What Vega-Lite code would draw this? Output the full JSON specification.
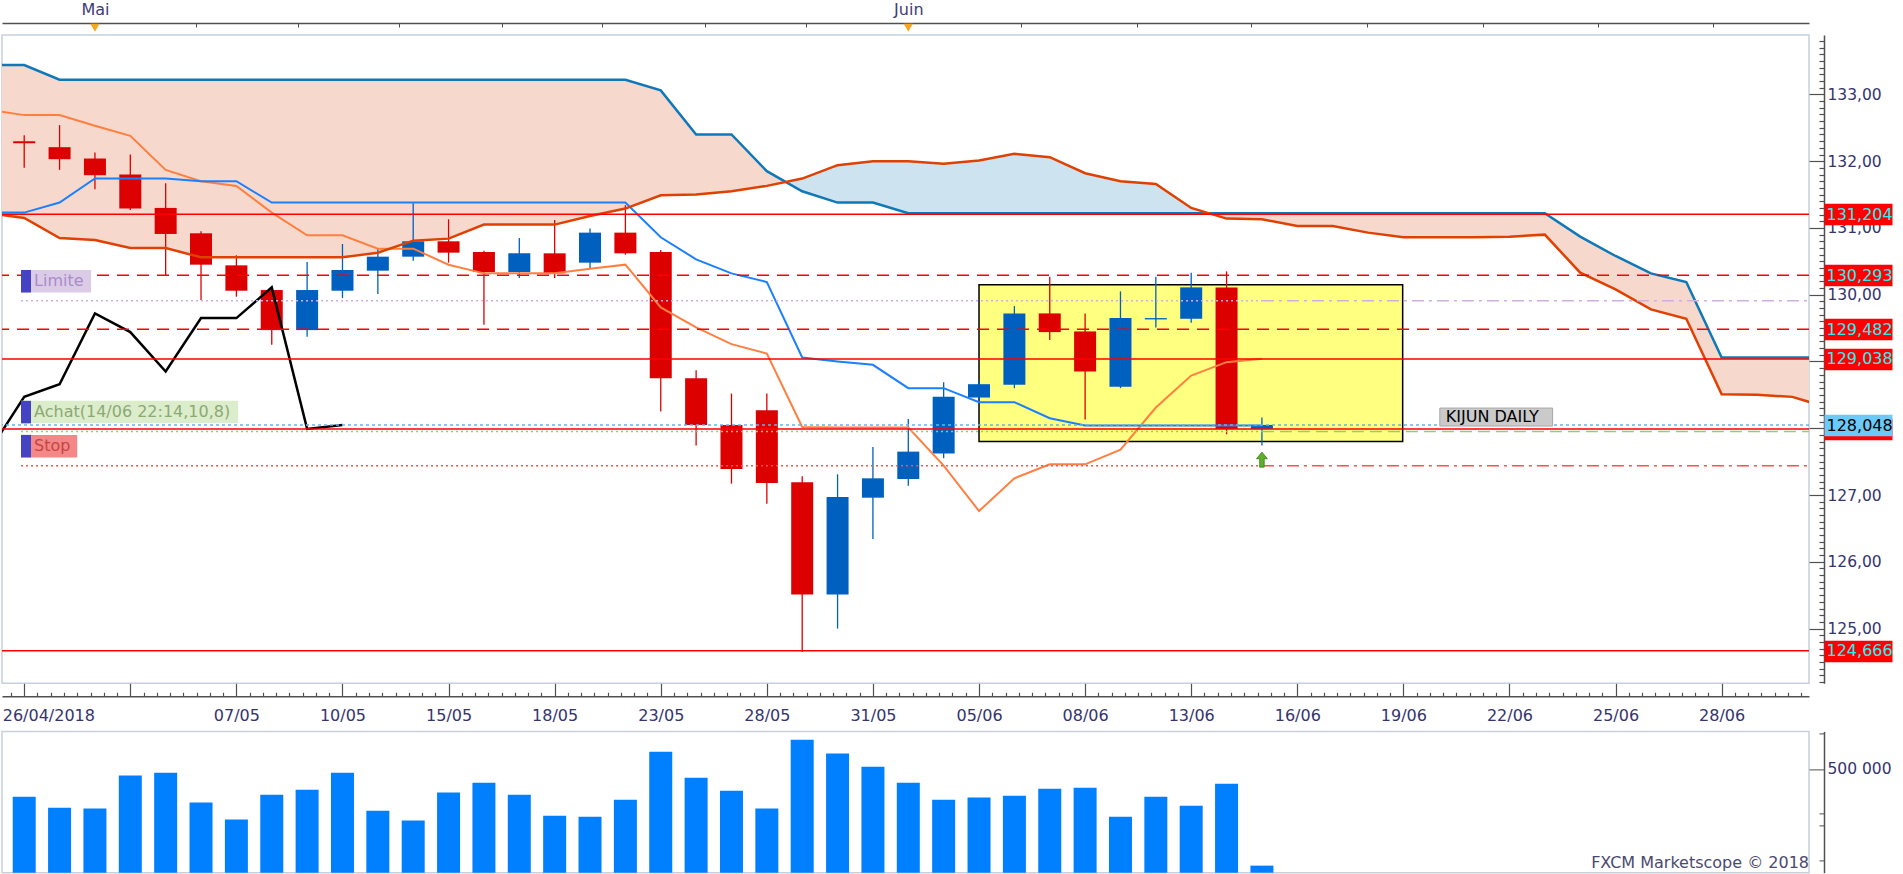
{
  "$schema": "https://vega.github.io/schema/vega-lite/v6.json",
  "background": "white",
  "padding": {"left": 0, "top": 0, "right": 0, "bottom": 0},
  "autosize": {"type": "pad"},
  "config": {
    "font": "DejaVu Sans",
    "view": {"stroke": "#c8d0da", "strokeWidth": 1.5},
    "axis": {"labelFont": "DejaVu Sans", "titleFont": "DejaVu Sans"},
    "title": {"font": "DejaVu Sans"},
    "scale": {"continuousPadding": 0}
  },
  "datasets": {
    "bougies": [
      {"s":0,"o":132.30,"h":132.39,"l":131.90,"c":132.27,"vol":366000},
      {"s":1,"o":132.21,"h":132.54,"l":131.87,"c":132.03,"vol":313000},
      {"s":2,"o":132.04,"h":132.13,"l":131.58,"c":131.79,"vol":309000},
      {"s":3,"o":131.80,"h":132.10,"l":131.27,"c":131.29,"vol":468000},
      {"s":4,"o":131.30,"h":131.67,"l":130.28,"c":130.91,"vol":482000},
      {"s":5,"o":130.92,"h":130.95,"l":129.92,"c":130.45,"vol":338000},
      {"s":6,"o":130.44,"h":130.59,"l":129.97,"c":130.06,"vol":256000},
      {"s":7,"o":130.07,"h":130.10,"l":129.25,"c":129.47,"vol":376000},
      {"s":8,"o":129.47,"h":130.49,"l":129.37,"c":130.07,"vol":400000},
      {"s":9,"o":130.06,"h":130.76,"l":129.95,"c":130.37,"vol":482000},
      {"s":10,"o":130.36,"h":130.70,"l":130.01,"c":130.57,"vol":299000},
      {"s":11,"o":130.57,"h":131.37,"l":130.51,"c":130.80,"vol":251000},
      {"s":12,"o":130.80,"h":131.13,"l":130.48,"c":130.63,"vol":386000},
      {"s":13,"o":130.64,"h":130.66,"l":129.55,"c":130.34,"vol":434000},
      {"s":14,"o":130.34,"h":130.85,"l":130.25,"c":130.62,"vol":376000},
      {"s":15,"o":130.62,"h":131.12,"l":130.25,"c":130.32,"vol":275000},
      {"s":16,"o":130.48,"h":130.99,"l":130.38,"c":130.93,"vol":270000},
      {"s":17,"o":130.93,"h":131.34,"l":130.60,"c":130.62,"vol":352000},
      {"s":18,"o":130.64,"h":130.67,"l":128.25,"c":128.75,"vol":583000},
      {"s":19,"o":128.75,"h":128.87,"l":127.74,"c":128.05,"vol":458000},
      {"s":20,"o":128.05,"h":128.52,"l":127.17,"c":127.39,"vol":395000},
      {"s":21,"o":128.27,"h":128.52,"l":126.87,"c":127.18,"vol":309000},
      {"s":22,"o":127.19,"h":127.28,"l":124.65,"c":125.51,"vol":641000},
      {"s":23,"o":125.51,"h":127.31,"l":125.00,"c":126.97,"vol":574000},
      {"s":24,"o":126.96,"h":127.72,"l":126.34,"c":127.25,"vol":511000},
      {"s":25,"o":127.24,"h":128.14,"l":127.14,"c":127.65,"vol":434000},
      {"s":26,"o":127.62,"h":128.69,"l":127.55,"c":128.47,"vol":352000},
      {"s":27,"o":128.46,"h":128.72,"l":128.40,"c":128.66,"vol":362000},
      {"s":28,"o":128.65,"h":129.83,"l":128.60,"c":129.72,"vol":371000},
      {"s":29,"o":129.72,"h":130.27,"l":129.32,"c":129.44,"vol":405000},
      {"s":30,"o":129.45,"h":129.72,"l":128.13,"c":128.85,"vol":410000},
      {"s":31,"o":128.62,"h":130.05,"l":128.60,"c":129.65,"vol":270000},
      {"s":32,"o":129.63,"h":130.27,"l":129.51,"c":129.65,"vol":366000},
      {"s":33,"o":129.64,"h":130.33,"l":129.58,"c":130.11,"vol":323000},
      {"s":34,"o":130.11,"h":130.35,"l":127.91,"c":127.99,"vol":429000},
      {"s":35,"o":127.99,"h":128.16,"l":127.74,"c":128.05,"vol":34000}
    ],
    "ichimoku": [
      {"s":-1,"tenkan":132.77,"kijun":131.23,"ssa":131.22,"ssb":133.44,"chikou":127.65},
      {"s":0,"tenkan":132.69,"kijun":131.23,"ssa":131.15,"ssb":133.44,"chikou":128.47},
      {"s":1,"tenkan":132.69,"kijun":131.38,"ssa":130.85,"ssb":133.22,"chikou":128.66},
      {"s":2,"tenkan":132.53,"kijun":131.74,"ssa":130.82,"ssb":133.22,"chikou":129.72},
      {"s":3,"tenkan":132.38,"kijun":131.74,"ssa":130.70,"ssb":133.22,"chikou":129.44},
      {"s":4,"tenkan":131.87,"kijun":131.74,"ssa":130.70,"ssb":133.22,"chikou":128.85},
      {"s":5,"tenkan":131.70,"kijun":131.70,"ssa":130.56,"ssb":133.22,"chikou":129.65},
      {"s":6,"tenkan":131.63,"kijun":131.70,"ssa":130.56,"ssb":133.22,"chikou":129.65},
      {"s":7,"tenkan":131.23,"kijun":131.38,"ssa":130.56,"ssb":133.22,"chikou":130.11},
      {"s":8,"tenkan":130.89,"kijun":131.38,"ssa":130.56,"ssb":133.22,"chikou":127.99},
      {"s":9,"tenkan":130.89,"kijun":131.38,"ssa":130.56,"ssb":133.22,"chikou":128.05},
      {"s":10,"tenkan":130.69,"kijun":131.38,"ssa":130.63,"ssb":133.22,"chikou":null},
      {"s":11,"tenkan":130.69,"kijun":131.38,"ssa":130.81,"ssb":133.22,"chikou":null},
      {"s":12,"tenkan":130.45,"kijun":131.38,"ssa":130.84,"ssb":133.22,"chikou":null},
      {"s":13,"tenkan":130.32,"kijun":131.38,"ssa":131.05,"ssb":133.22,"chikou":null},
      {"s":14,"tenkan":130.32,"kijun":131.38,"ssa":131.05,"ssb":133.22,"chikou":null},
      {"s":15,"tenkan":130.32,"kijun":131.38,"ssa":131.05,"ssb":133.22,"chikou":null},
      {"s":16,"tenkan":130.39,"kijun":131.38,"ssa":131.18,"ssb":133.22,"chikou":null},
      {"s":17,"tenkan":130.45,"kijun":131.38,"ssa":131.29,"ssb":133.22,"chikou":null},
      {"s":18,"tenkan":129.81,"kijun":130.86,"ssa":131.49,"ssb":133.06,"chikou":null},
      {"s":19,"tenkan":129.51,"kijun":130.53,"ssa":131.50,"ssb":132.40,"chikou":null},
      {"s":20,"tenkan":129.26,"kijun":130.32,"ssa":131.55,"ssb":132.40,"chikou":null},
      {"s":21,"tenkan":129.12,"kijun":130.19,"ssa":131.63,"ssb":131.85,"chikou":null},
      {"s":22,"tenkan":128.02,"kijun":129.06,"ssa":131.74,"ssb":131.55,"chikou":null},
      {"s":23,"tenkan":128.01,"kijun":129.00,"ssa":131.94,"ssb":131.38,"chikou":null},
      {"s":24,"tenkan":128.01,"kijun":128.95,"ssa":132.00,"ssb":131.38,"chikou":null},
      {"s":25,"tenkan":128.01,"kijun":128.60,"ssa":132.00,"ssb":131.22,"chikou":null},
      {"s":26,"tenkan":127.44,"kijun":128.60,"ssa":131.96,"ssb":131.22,"chikou":null},
      {"s":27,"tenkan":126.76,"kijun":128.39,"ssa":132.01,"ssb":131.22,"chikou":null},
      {"s":28,"tenkan":127.25,"kijun":128.39,"ssa":132.11,"ssb":131.22,"chikou":null},
      {"s":29,"tenkan":127.46,"kijun":128.15,"ssa":132.06,"ssb":131.22,"chikou":null},
      {"s":30,"tenkan":127.46,"kijun":128.04,"ssa":131.82,"ssb":131.22,"chikou":null},
      {"s":31,"tenkan":127.68,"kijun":128.04,"ssa":131.70,"ssb":131.22,"chikou":null},
      {"s":32,"tenkan":128.31,"kijun":128.04,"ssa":131.66,"ssb":131.22,"chikou":null},
      {"s":33,"tenkan":128.79,"kijun":128.04,"ssa":131.30,"ssb":131.22,"chikou":null},
      {"s":34,"tenkan":128.99,"kijun":128.04,"ssa":131.14,"ssb":131.22,"chikou":null},
      {"s":35,"tenkan":129.04,"kijun":128.04,"ssa":131.13,"ssb":131.22,"chikou":null},
      {"s":36,"tenkan":null,"kijun":null,"ssa":131.03,"ssb":131.22,"chikou":null},
      {"s":37,"tenkan":null,"kijun":null,"ssa":131.03,"ssb":131.22,"chikou":null},
      {"s":38,"tenkan":null,"kijun":null,"ssa":130.93,"ssb":131.22,"chikou":null},
      {"s":39,"tenkan":null,"kijun":null,"ssa":130.86,"ssb":131.22,"chikou":null},
      {"s":40,"tenkan":null,"kijun":null,"ssa":130.86,"ssb":131.22,"chikou":null},
      {"s":41,"tenkan":null,"kijun":null,"ssa":130.86,"ssb":131.22,"chikou":null},
      {"s":42,"tenkan":null,"kijun":null,"ssa":130.87,"ssb":131.22,"chikou":null},
      {"s":43,"tenkan":null,"kijun":null,"ssa":130.90,"ssb":131.22,"chikou":null},
      {"s":44,"tenkan":null,"kijun":null,"ssa":130.33,"ssb":130.87,"chikou":null},
      {"s":45,"tenkan":null,"kijun":null,"ssa":130.08,"ssb":130.58,"chikou":null},
      {"s":46,"tenkan":null,"kijun":null,"ssa":129.78,"ssb":130.32,"chikou":null},
      {"s":47,"tenkan":null,"kijun":null,"ssa":129.64,"ssb":130.19,"chikou":null},
      {"s":48,"tenkan":null,"kijun":null,"ssa":128.51,"ssb":129.06,"chikou":null},
      {"s":49,"tenkan":null,"kijun":null,"ssa":128.50,"ssb":129.06,"chikou":null},
      {"s":50,"tenkan":null,"kijun":null,"ssa":128.47,"ssb":129.06,"chikou":null},
      {"s":51,"tenkan":null,"kijun":null,"ssa":128.31,"ssb":129.06,"chikou":null}
    ],
    "nuage": [
      {"s":-1,"a":131.22,"b":133.44,"type":"baissier","troncon":"t1"},
      {"s":0,"a":131.15,"b":133.44,"type":"baissier","troncon":"t1"},
      {"s":1,"a":130.85,"b":133.22,"type":"baissier","troncon":"t1"},
      {"s":2,"a":130.82,"b":133.22,"type":"baissier","troncon":"t1"},
      {"s":3,"a":130.70,"b":133.22,"type":"baissier","troncon":"t1"},
      {"s":4,"a":130.70,"b":133.22,"type":"baissier","troncon":"t1"},
      {"s":5,"a":130.56,"b":133.22,"type":"baissier","troncon":"t1"},
      {"s":6,"a":130.56,"b":133.22,"type":"baissier","troncon":"t1"},
      {"s":7,"a":130.56,"b":133.22,"type":"baissier","troncon":"t1"},
      {"s":8,"a":130.56,"b":133.22,"type":"baissier","troncon":"t1"},
      {"s":9,"a":130.56,"b":133.22,"type":"baissier","troncon":"t1"},
      {"s":10,"a":130.63,"b":133.22,"type":"baissier","troncon":"t1"},
      {"s":11,"a":130.81,"b":133.22,"type":"baissier","troncon":"t1"},
      {"s":12,"a":130.84,"b":133.22,"type":"baissier","troncon":"t1"},
      {"s":13,"a":131.05,"b":133.22,"type":"baissier","troncon":"t1"},
      {"s":14,"a":131.05,"b":133.22,"type":"baissier","troncon":"t1"},
      {"s":15,"a":131.05,"b":133.22,"type":"baissier","troncon":"t1"},
      {"s":16,"a":131.18,"b":133.22,"type":"baissier","troncon":"t1"},
      {"s":17,"a":131.29,"b":133.22,"type":"baissier","troncon":"t1"},
      {"s":18,"a":131.49,"b":133.06,"type":"baissier","troncon":"t1"},
      {"s":19,"a":131.50,"b":132.40,"type":"baissier","troncon":"t1"},
      {"s":20,"a":131.55,"b":132.40,"type":"baissier","troncon":"t1"},
      {"s":21,"a":131.63,"b":131.85,"type":"baissier","troncon":"t1"},
      {"s":21.54,"a":131.69,"b":131.69,"type":"baissier","troncon":"t1"},
      {"s":21.54,"a":131.69,"b":131.69,"type":"haussier","troncon":"t2"},
      {"s":22,"a":131.74,"b":131.55,"type":"haussier","troncon":"t2"},
      {"s":23,"a":131.94,"b":131.38,"type":"haussier","troncon":"t2"},
      {"s":24,"a":132.00,"b":131.38,"type":"haussier","troncon":"t2"},
      {"s":25,"a":132.00,"b":131.22,"type":"haussier","troncon":"t2"},
      {"s":26,"a":131.96,"b":131.22,"type":"haussier","troncon":"t2"},
      {"s":27,"a":132.01,"b":131.22,"type":"haussier","troncon":"t2"},
      {"s":28,"a":132.11,"b":131.22,"type":"haussier","troncon":"t2"},
      {"s":29,"a":132.06,"b":131.22,"type":"haussier","troncon":"t2"},
      {"s":30,"a":131.82,"b":131.22,"type":"haussier","troncon":"t2"},
      {"s":31,"a":131.70,"b":131.22,"type":"haussier","troncon":"t2"},
      {"s":32,"a":131.66,"b":131.22,"type":"haussier","troncon":"t2"},
      {"s":33,"a":131.30,"b":131.22,"type":"haussier","troncon":"t2"},
      {"s":33.5,"a":131.22,"b":131.22,"type":"haussier","troncon":"t2"},
      {"s":33.5,"a":131.22,"b":131.22,"type":"baissier","troncon":"t3"},
      {"s":34,"a":131.14,"b":131.22,"type":"baissier","troncon":"t3"},
      {"s":35,"a":131.13,"b":131.22,"type":"baissier","troncon":"t3"},
      {"s":36,"a":131.03,"b":131.22,"type":"baissier","troncon":"t3"},
      {"s":37,"a":131.03,"b":131.22,"type":"baissier","troncon":"t3"},
      {"s":38,"a":130.93,"b":131.22,"type":"baissier","troncon":"t3"},
      {"s":39,"a":130.86,"b":131.22,"type":"baissier","troncon":"t3"},
      {"s":40,"a":130.86,"b":131.22,"type":"baissier","troncon":"t3"},
      {"s":41,"a":130.86,"b":131.22,"type":"baissier","troncon":"t3"},
      {"s":42,"a":130.87,"b":131.22,"type":"baissier","troncon":"t3"},
      {"s":43,"a":130.90,"b":131.22,"type":"baissier","troncon":"t3"},
      {"s":44,"a":130.33,"b":130.87,"type":"baissier","troncon":"t3"},
      {"s":45,"a":130.08,"b":130.58,"type":"baissier","troncon":"t3"},
      {"s":46,"a":129.78,"b":130.32,"type":"baissier","troncon":"t3"},
      {"s":47,"a":129.64,"b":130.19,"type":"baissier","troncon":"t3"},
      {"s":48,"a":128.51,"b":129.06,"type":"baissier","troncon":"t3"},
      {"s":49,"a":128.50,"b":129.06,"type":"baissier","troncon":"t3"},
      {"s":50,"a":128.47,"b":129.06,"type":"baissier","troncon":"t3"},
      {"s":51,"a":128.31,"b":129.06,"type":"baissier","troncon":"t3"}
    ],
    "niveaux": [
      {"prix":131.204,"type":"niveau"},
      {"prix":130.293,"type":"pivot"},
      {"prix":129.482,"type":"pivot"},
      {"prix":129.038,"type":"niveau"},
      {"prix":127.99,"type":"niveau"},
      {"prix":128.048,"type":"cours"},
      {"prix":124.666,"type":"niveau"}
    ],
    "ordres": [
      {"ordre":"Limite","prix":129.91,"texte":"Limite","debut":-0.09,"actuel":35,"fin":1.89},
      {"ordre":"Achat","prix":127.95,"texte":"Achat(14/06 22:14,10,8)","debut":-0.09,"actuel":35,"fin":6.05},
      {"ordre":"Stop","prix":127.44,"texte":"Stop","debut":-0.09,"actuel":35,"fin":1.5}
    ],
    "zone": [{"debut":27,"fin":38.98,"haut":130.15,"bas":127.80}],
    "etiquette": [{"texte":"KIJUN DAILY","debut":40.03,"fin":43.22,"prix":128.048}],
    "signal": [{"s":35,"prix":127.53,"sens":"achat"}],
    "mois": [{"s":2,"mois":"Mai"},{"s":25,"mois":"Juin"}]
  },
  "spacing": 47.4,
  "bounds": "flush",
  "vconcat": [
    {
      "width": 1807,
      "height": 648.3,
      "resolve": {"axis": {"x": "independent", "y": "independent"}},
      "layer": [
        {
          "data": {"name": "nuage"},
          "mark": {"type": "area", "clip": true},
          "encoding": {
            "x": {"field": "s", "type": "quantitative", "scale": {"domain": [-0.628, 50.47], "nice": false, "zero": false, "padding": 0},
              "axis": {
                "orient": "bottom", "offset": 13, "grid": false, "title": null,
                "values": [-0.375,0,0.375,0.75,1.125,1.5,1.875,2.25,2.625,3,3.375,3.75,4.125,4.5,4.875,5.25,5.625,6,6.375,6.75,7.125,7.5,7.875,8.25,8.625,9,9.375,9.75,10.125,10.5,10.875,11.25,11.625,12,12.375,12.75,13.125,13.5,13.875,14.25,14.625,15,15.375,15.75,16.125,16.5,16.875,17.25,17.625,18,18.375,18.75,19.125,19.5,19.875,20.25,20.625,21,21.375,21.75,22.125,22.5,22.875,23.25,23.625,24,24.375,24.75,25.125,25.5,25.875,26.25,26.625,27,27.375,27.75,28.125,28.5,28.875,29.25,29.625,30,30.375,30.75,31.125,31.5,31.875,32.25,32.625,33,33.375,33.75,34.125,34.5,34.875,35.25,35.625,36,36.375,36.75,37.125,37.5,37.875,38.25,38.625,39,39.375,39.75,40.125,40.5,40.875,41.25,41.625,42,42.375,42.75,43.125,43.5,43.875,44.25,44.625,45,45.375,45.75,46.125,46.5,46.875,47.25,47.625,48,48.375,48.75,49.125,49.5,49.875,50.25],
                "tickSize": {"condition": {"test": "datum.value % 3 === 0", "value": -13}, "value": -4},
                "tickColor": "#505050", "tickWidth": 1.2,
                "domainColor": "#505050", "domainWidth": 1.5,
                "labelExpr": "datum.value % 3 === 0 ? ['26/04/2018','','07/05','10/05','15/05','18/05','23/05','28/05','31/05','05/06','08/06','13/06','16/06','19/06','22/06','25/06','28/06'][datum.value / 3] : ''",
                "labelPadding": 24, "labelFlush": false,
                "labelAlign": {"condition": {"test": "datum.value === 0", "value": "left"}, "value": "center"},
                "labelOffset": {"condition": {"test": "datum.value === 0", "value": -22}, "value": 0},
                "labelFontSize": 16, "labelColor": "#34346e", "labelOverlap": false
              }
            },
            "y": {"field": "a", "type": "quantitative", "scale": {"domain": [124.18, 133.89], "nice": false, "zero": false, "padding": 0}, "axis": null},
            "y2": {"field": "b"},
            "color": {"field": "type", "type": "nominal", "scale": {"domain": ["baissier", "haussier"], "range": ["#f6d8cc", "#cde4f0"]}, "legend": null},
            "detail": {"field": "troncon", "type": "nominal"}
          }
        },
        {
          "data": {"name": "zone"},
          "mark": {"type": "rect", "fill": "#ffff80", "stroke": "#000000", "strokeWidth": 1.5},
          "encoding": {
            "x": {"field": "debut", "type": "quantitative", "scale": {"domain": [-0.628, 50.47], "nice": false, "zero": false, "padding": 0}, "axis": null},
            "x2": {"field": "fin"},
            "y": {"field": "haut", "type": "quantitative", "scale": {"domain": [124.18, 133.89], "nice": false, "zero": false, "padding": 0}, "axis": null},
            "y2": {"field": "bas"}
          }
        },
        {
          "data": {"name": "bougies"},
          "mark": {"type": "rule", "strokeWidth": 1.3},
          "encoding": {
            "x": {"field": "s", "type": "quantitative", "scale": {"domain": [-0.628, 50.47], "nice": false, "zero": false, "padding": 0}, "axis": null},
            "y": {"field": "l", "type": "quantitative", "scale": {"domain": [124.18, 133.89], "nice": false, "zero": false, "padding": 0}, "axis": null},
            "y2": {"field": "h"},
            "color": {"condition": {"test": "datum.c >= datum.o", "value": "#0060c0"}, "value": "#dd0000"}
          }
        },
        {
          "data": {"name": "bougies"},
          "mark": {"type": "bar", "width": 22},
          "encoding": {
            "x": {"field": "s", "type": "quantitative", "scale": {"domain": [-0.628, 50.47], "nice": false, "zero": false, "padding": 0}, "axis": null},
            "y": {"field": "o", "type": "quantitative", "scale": {"domain": [124.18, 133.89], "nice": false, "zero": false, "padding": 0},
              "axis": {
                "orient": "right", "offset": 15, "grid": false, "title": null,
                "tickCount": 97,
                "tickSize": {"condition": {"test": "abs(datum.value - round(datum.value)) < 0.01", "value": -15}, "value": -5},
                "tickColor": "#505050", "tickWidth": 1.2,
                "domainColor": "#505050", "domainWidth": 1.5,
                "labelExpr": "abs(datum.value - round(datum.value)) < 0.01 ? replace(format(datum.value, '.2f'), '.', ',') : ''",
                "labelPadding": 18, "labelFontSize": 15.5, "labelColor": "#34346e", "labelOverlap": false, "labelBound": false
              }
            },
            "y2": {"field": "c"},
            "color": {"condition": {"test": "datum.c >= datum.o", "value": "#0060c0"}, "value": "#dd0000"}
          }
        },
        {
          "data": {"name": "ichimoku"},
          "mark": {"type": "line", "clip": true, "strokeWidth": 2, "color": "#ff7f40"},
          "encoding": {
            "x": {"field": "s", "type": "quantitative", "scale": {"domain": [-0.628, 50.47], "nice": false, "zero": false, "padding": 0}, "axis": null},
            "y": {"field": "tenkan", "type": "quantitative", "scale": {"domain": [124.18, 133.89], "nice": false, "zero": false, "padding": 0}, "axis": null}
          }
        },
        {
          "data": {"name": "ichimoku"},
          "mark": {"type": "line", "clip": true, "strokeWidth": 2, "color": "#1a80ff"},
          "encoding": {
            "x": {"field": "s", "type": "quantitative", "scale": {"domain": [-0.628, 50.47], "nice": false, "zero": false, "padding": 0}, "axis": null},
            "y": {"field": "kijun", "type": "quantitative", "scale": {"domain": [124.18, 133.89], "nice": false, "zero": false, "padding": 0}, "axis": null}
          }
        },
        {
          "data": {"name": "ichimoku"},
          "mark": {"type": "line", "clip": true, "strokeWidth": 2.5, "color": "#0f78b8"},
          "encoding": {
            "x": {"field": "s", "type": "quantitative", "scale": {"domain": [-0.628, 50.47], "nice": false, "zero": false, "padding": 0}, "axis": null},
            "y": {"field": "ssb", "type": "quantitative", "scale": {"domain": [124.18, 133.89], "nice": false, "zero": false, "padding": 0}, "axis": null}
          }
        },
        {
          "data": {"name": "ichimoku"},
          "mark": {"type": "line", "clip": true, "strokeWidth": 2.5, "color": "#e04000"},
          "encoding": {
            "x": {"field": "s", "type": "quantitative", "scale": {"domain": [-0.628, 50.47], "nice": false, "zero": false, "padding": 0}, "axis": null},
            "y": {"field": "ssa", "type": "quantitative", "scale": {"domain": [124.18, 133.89], "nice": false, "zero": false, "padding": 0}, "axis": null}
          }
        },
        {
          "data": {"name": "ichimoku"},
          "mark": {"type": "line", "clip": true, "strokeWidth": 2.5, "color": "#000000"},
          "encoding": {
            "x": {"field": "s", "type": "quantitative", "scale": {"domain": [-0.628, 50.47], "nice": false, "zero": false, "padding": 0}, "axis": null},
            "y": {"field": "chikou", "type": "quantitative", "scale": {"domain": [124.18, 133.89], "nice": false, "zero": false, "padding": 0}, "axis": null}
          }
        },
        {
          "data": {"name": "niveaux"},
          "mark": {"type": "rule", "strokeWidth": 1.5},
          "encoding": {
            "y": {"field": "prix", "type": "quantitative", "scale": {"domain": [124.18, 133.89], "nice": false, "zero": false, "padding": 0},
              "axis": {
                "orient": "right", "offset": 15, "grid": false, "title": null, "domain": false,
                "values": [131.204, 130.293, 129.482, 129.038, 127.99, 128.048, 124.666],
                "tickSize": 68, "tickWidth": 21.5,
                "tickColor": {"condition": {"test": "datum.value === 128.048", "value": "#6ccaf8"}, "value": "#ff0000"},
                "labelColor": {"condition": {"test": "datum.value === 128.048", "value": "#000000"}, "value": "#22f2f2"},
                "labelExpr": "datum.value === 127.99 ? '' : replace(format(datum.value, '.3f'), '.', ',')",
                "labelPadding": -66, "labelFontSize": 16, "labelOverlap": false, "labelBound": false
              }
            },
            "color": {"condition": {"test": "datum.type === 'cours'", "value": "#5ab8f0"}, "value": "#ff0000"},
            "strokeDash": {"condition": [{"test": "datum.type === 'pivot'", "value": [12, 8]}, {"test": "datum.type === 'cours'", "value": [3, 3]}], "value": [1, 0]}
          }
        },
        {
          "data": {"name": "ordres"},
          "mark": {"type": "rule", "strokeWidth": 1.5, "strokeDash": [2, 3]},
          "encoding": {
            "x": {"field": "debut", "type": "quantitative", "scale": {"domain": [-0.628, 50.47], "nice": false, "zero": false, "padding": 0}, "axis": null},
            "x2": {"field": "actuel"},
            "y": {"field": "prix", "type": "quantitative", "scale": {"domain": [124.18, 133.89], "nice": false, "zero": false, "padding": 0}, "axis": null},
            "color": {"condition": [{"test": "datum.ordre === 'Limite'", "value": "#cdb0e0"}, {"test": "datum.ordre === 'Achat'", "value": "#96cc6c"}], "value": "#ff5050"}
          }
        },
        {
          "data": {"name": "ordres"},
          "mark": {"type": "rule", "strokeWidth": 1.5},
          "encoding": {
            "x": {"field": "actuel", "type": "quantitative", "scale": {"domain": [-0.628, 50.47], "nice": false, "zero": false, "padding": 0}, "axis": null},
            "x2": {"value": "width"},
            "y": {"field": "prix", "type": "quantitative", "scale": {"domain": [124.18, 133.89], "nice": false, "zero": false, "padding": 0}, "axis": null},
            "color": {"condition": [{"test": "datum.ordre === 'Limite'", "value": "#cdb0e0"}, {"test": "datum.ordre === 'Achat'", "value": "#96cc6c"}], "value": "#ff5050"},
            "strokeDash": {"condition": {"test": "datum.ordre === 'Achat'", "value": [12, 6]}, "value": [12, 5, 3, 5]}
          }
        },
        {
          "data": {"name": "ordres"},
          "mark": {"type": "bar", "height": 22.5, "yOffset": -19.5},
          "encoding": {
            "x": {"field": "debut", "type": "quantitative", "scale": {"domain": [-0.628, 50.47], "nice": false, "zero": false, "padding": 0}, "axis": null},
            "x2": {"field": "fin"},
            "y": {"field": "prix", "type": "quantitative", "scale": {"domain": [124.18, 133.89], "nice": false, "zero": false, "padding": 0}, "axis": null},
            "color": {"condition": [{"test": "datum.ordre === 'Limite'", "value": "#dccbe6"}, {"test": "datum.ordre === 'Achat'", "value": "#dcedcc"}], "value": "#f28888"}
          }
        },
        {
          "data": {"name": "ordres"},
          "mark": {"type": "tick", "orient": "vertical", "thickness": 10, "size": 22.5, "xOffset": 5, "yOffset": -19.5, "color": "#4343c3", "opacity": 1},
          "encoding": {
            "x": {"field": "debut", "type": "quantitative", "scale": {"domain": [-0.628, 50.47], "nice": false, "zero": false, "padding": 0}, "axis": null},
            "y": {"field": "prix", "type": "quantitative", "scale": {"domain": [124.18, 133.89], "nice": false, "zero": false, "padding": 0}, "axis": null}
          }
        },
        {
          "data": {"name": "ordres"},
          "mark": {"type": "text", "align": "left", "baseline": "middle", "fontSize": 16, "yOffset": -19.5, "dx": 13},
          "encoding": {
            "x": {"field": "debut", "type": "quantitative", "scale": {"domain": [-0.628, 50.47], "nice": false, "zero": false, "padding": 0}, "axis": null},
            "y": {"field": "prix", "type": "quantitative", "scale": {"domain": [124.18, 133.89], "nice": false, "zero": false, "padding": 0}, "axis": null},
            "text": {"field": "texte"},
            "color": {"condition": [{"test": "datum.ordre === 'Limite'", "value": "#a88ccc"}, {"test": "datum.ordre === 'Achat'", "value": "#8ca874"}], "value": "#c84444"}
          }
        },
        {
          "data": {"name": "etiquette"},
          "mark": {"type": "bar", "height": 18, "yOffset": -8, "color": "#cacaca", "stroke": "#a8a8a8", "strokeWidth": 1},
          "encoding": {
            "x": {"field": "debut", "type": "quantitative", "scale": {"domain": [-0.628, 50.47], "nice": false, "zero": false, "padding": 0}, "axis": null},
            "x2": {"field": "fin"},
            "y": {"field": "prix", "type": "quantitative", "scale": {"domain": [124.18, 133.89], "nice": false, "zero": false, "padding": 0}, "axis": null}
          }
        },
        {
          "data": {"name": "etiquette"},
          "mark": {"type": "text", "align": "left", "baseline": "middle", "fontSize": 16, "yOffset": -8, "dx": 6, "color": "#000000"},
          "encoding": {
            "x": {"field": "debut", "type": "quantitative", "scale": {"domain": [-0.628, 50.47], "nice": false, "zero": false, "padding": 0}, "axis": null},
            "y": {"field": "prix", "type": "quantitative", "scale": {"domain": [124.18, 133.89], "nice": false, "zero": false, "padding": 0}, "axis": null},
            "text": {"field": "texte"}
          }
        },
        {
          "data": {"name": "signal"},
          "mark": {"type": "point", "shape": "M0,-1L0.72,-0.12L0.3,-0.12L0.3,1L-0.3,1L-0.3,-0.12L-0.72,-0.12Z", "filled": true, "size": 225, "color": "#5cb02a", "stroke": "#3a7a14", "strokeWidth": 0.8, "opacity": 1},
          "encoding": {
            "x": {"field": "s", "type": "quantitative", "scale": {"domain": [-0.628, 50.47], "nice": false, "zero": false, "padding": 0}, "axis": null},
            "y": {"field": "prix", "type": "quantitative", "scale": {"domain": [124.18, 133.89], "nice": false, "zero": false, "padding": 0}, "axis": null}
          }
        },
        {
          "data": {"name": "mois"},
          "mark": {"type": "point", "shape": "triangle-down", "filled": true, "size": 85, "color": "#f5a623", "opacity": 1},
          "encoding": {
            "x": {"field": "s", "type": "quantitative", "scale": {"domain": [-0.628, 50.47], "nice": false, "zero": false, "padding": 0},
              "axis": {
                "orient": "top", "offset": 12, "grid": false, "title": null,
                "values": [2, 4.87, 7.75, 10.61, 13.5, 16.35, 19.24, 22.1, 25, 28.2, 31.46, 34.7, 37.98, 41.25, 44.5, 47.75],
                "tickSize": -4, "tickColor": "#505050",
                "domainColor": "#505050", "domainWidth": 1.5,
                "labelExpr": "datum.value === 2 ? 'Mai' : datum.value === 25 ? 'Juin' : ''",
                "labelPadding": 10, "labelFlush": false, "labelFontSize": 16, "labelColor": "#3c3c78", "labelOverlap": false
              }
            },
            "y": {"datum": 134.0, "type": "quantitative", "scale": {"domain": [124.18, 133.89], "nice": false, "zero": false, "padding": 0}, "axis": null}
          }
        }
      ]
    },
    {
      "width": 1807,
      "height": 141.3,
      "data": {"name": "bougies"},
      "mark": {"type": "bar", "width": 23, "color": "#0080ff"},
      "title": {"text": "FXCM Marketscope © 2018", "orient": "bottom", "anchor": "end", "frame": "group", "offset": -18, "fontSize": 16, "fontWeight": "normal", "color": "#4a4a70"},
      "encoding": {
        "x": {"field": "s", "type": "quantitative", "scale": {"domain": [-0.628, 50.47], "nice": false, "zero": false, "padding": 0}, "axis": null},
        "y": {"field": "vol", "type": "quantitative", "scale": {"domain": [0, 681000], "nice": false, "padding": 0},
          "axis": {
            "orient": "right", "offset": 15, "grid": false, "title": null,
            "values": [58000, 227000, 284000, 500000, 670000],
            "tickSize": {"condition": {"test": "datum.value === 500000", "value": -15}, "value": -5},
            "tickColor": "#505050", "domainColor": "#505050", "domainWidth": 1.5,
            "labelExpr": "datum.value === 500000 ? '500 000' : ''",
            "labelPadding": 18, "labelFontSize": 15.5, "labelColor": "#34346e", "labelOverlap": false
          }
        }
      }
    }
  ]
}
